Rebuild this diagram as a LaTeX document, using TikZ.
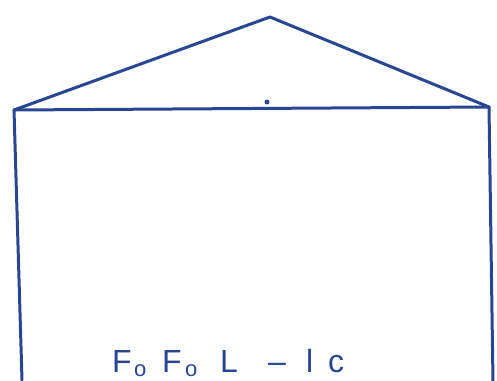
\documentclass[tikz,border=0pt]{standalone}
\usepackage{fontspec}
\setmainfont{Liberation Sans}
\definecolor{ink}{RGB}{40,70,145}
\begin{document}
\begin{tikzpicture}[x=1pt,y=-1pt,
  wall/.style={draw=ink,line width=3pt,line cap=round,line join=round},
  hand/.style={text=ink,font=\fontsize{32}{32}\selectfont,inner sep=0pt,anchor=base west},
  small/.style={hand,font=\fontsize{22}{22}\selectfont}]
\useasboundingbox (0,0) rectangle (497,380);
\coordinate (tl) at (14,110);
\coordinate (apex) at (270,17);
\coordinate (tr) at (489,107);
\coordinate (bl) at (22,380);
\coordinate (br) at (493,382);
\draw[wall] (tl) -- (apex) -- (tr);
\draw[wall] (tl) -- (tr);
\draw[wall] (tl) -- (bl);
\draw[wall] (tr) -- (br);
\fill[ink] (267,102) circle (2.5pt);
\node[hand] (f1) at (112,372) {F};
\node[small] (o1) at (134,376) {o};
\node[hand] (f2) at (162,372) {F};
\node[small] (o2) at (185,376) {o};
\node[hand] (l1) at (220,372) {L};
\node[hand] (dash) at (268,372) {–};
\node[hand] (l2) at (306,372) {l};
\node[hand] (c1) at (328,372) {c};
\end{tikzpicture}
\end{document}
